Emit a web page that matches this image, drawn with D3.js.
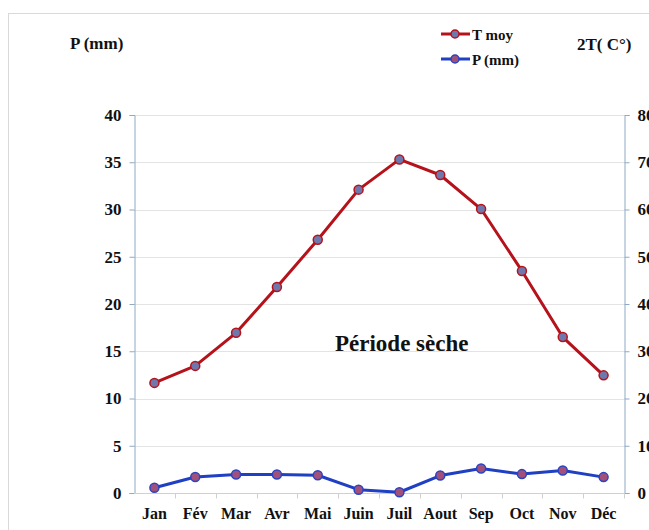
<!DOCTYPE html>
<html>
<head>
<meta charset="utf-8">
<script src="https://cdn.jsdelivr.net/npm/d3@7"></script>
<style>
  svg text { font-family: "Liberation Serif", Tinos, "Times New Roman" !important; font-weight: bold; }
</style>
</head>
<body style="margin:0;background:#fff;overflow:hidden">
<svg id="chart" width="649" height="530" style="display:block" font-family="Liberation Serif"></svg>
<script>
// Monthly climate data (ombrothermic diagram, P = 2T)
const months = ["Jan", "Fév", "Mar", "Avr", "Mai", "Juin", "Juil", "Aout", "Sep", "Oct", "Nov", "Déc"];
const tMoy = [11.65, 13.45, 16.95, 21.8, 26.8, 32.1, 35.3, 33.65, 30.05, 23.5, 16.5, 12.45];   // °C
const precip = [0.55, 1.7, 1.95, 1.95, 1.88, 0.35, 0.08, 1.85, 2.6, 2.0, 2.38, 1.68];           // mm
const leftTicks = [0, 5, 10, 15, 20, 25, 30, 35, 40];
const rightTicks = [0, 10, 20, 30, 40, 50, 60, 70, 80];

const FONT = "Liberation Serif";
const svg = d3.select("#chart");
const m = { left: 134, right: 624, top: 115, bottom: 493 };

function styleText(sel, size) {
  return sel.attr("font-family", FONT).attr("font-weight", "bold")
    .style("font-family", '"' + FONT + '"').style("font-weight", "bold")
    .style("font-size", size + "px").style("fill", "#111");
}

// chart frame
svg.append("rect")
  .attr("x", 8.5).attr("y", 13.5).attr("width", 700).attr("height", 600)
  .attr("fill", "none").attr("stroke", "#d9d9d9").attr("stroke-width", 1);

const x = d3.scaleBand().domain(months).range([m.left, m.right]);
const yP = d3.scaleLinear().domain([0, 40]).range([m.bottom, m.top]);
const yT = d3.scaleLinear().domain([0, 80]).range([m.bottom, m.top]);

// horizontal gridlines
svg.append("g").selectAll("line").data(leftTicks.filter(d => d > 0)).join("line")
  .attr("x1", m.left).attr("x2", m.right)
  .attr("y1", d => Math.round(yP(d)) + 0.5).attr("y2", d => Math.round(yP(d)) + 0.5)
  .attr("stroke", "#e3e3e3").attr("stroke-width", 1);

// left axis
const axisColor = "#8eaac4";
const gl = svg.append("g").attr("transform", `translate(${m.left + 0.5},0)`)
  .call(d3.axisLeft(yP).tickValues(leftTicks).tickSize(5).tickPadding(8))
  .attr("font-family", FONT).attr("font-size", null);
gl.select(".domain").attr("stroke", axisColor);
gl.selectAll(".tick line").attr("stroke", axisColor);
styleText(gl.selectAll(".tick text"), 17);

// right axis
const gr = svg.append("g").attr("transform", `translate(${m.right + 0.5},0)`)
  .call(d3.axisRight(yT).tickValues(rightTicks).tickSize(5).tickPadding(8))
  .attr("font-family", FONT).attr("font-size", null);
gr.select(".domain").attr("stroke", axisColor);
gr.selectAll(".tick line").attr("stroke", axisColor);
styleText(gr.selectAll(".tick text"), 17);

// category axis
const gx = svg.append("g").attr("transform", `translate(0,${m.bottom + 0.5})`);
gx.append("line").attr("x1", m.left).attr("x2", m.right).attr("stroke", "#d0d0d0");
gx.selectAll("line.tk").data(months).join("line").attr("class", "tk")
  .attr("x1", d => Math.round(x(d) + x.bandwidth()) + 0.5)
  .attr("x2", d => Math.round(x(d) + x.bandwidth()) + 0.5)
  .attr("y1", 0).attr("y2", 5).attr("stroke", "#d0d0d0");
styleText(gx.selectAll("text").data(months).join("text")
  .attr("x", d => x(d) + x.bandwidth() / 2).attr("y", 25)
  .attr("text-anchor", "middle").text(d => d), 16);

const cx = d => x(d) + x.bandwidth() / 2;

// temperature series (on the 2T axis)
const tLine = d3.line().x((d, i) => cx(months[i])).y(d => yT(2 * d));
svg.append("path").datum(tMoy).attr("d", tLine)
  .attr("fill", "none").attr("stroke", "#b5121b").attr("stroke-width", 3).attr("stroke-linejoin", "round");
svg.append("g").selectAll("circle").data(tMoy).join("circle")
  .attr("cx", (d, i) => cx(months[i])).attr("cy", d => yT(2 * d)).attr("r", 4.5)
  .attr("fill", "#6f78ad").attr("stroke", "#b5121b").attr("stroke-width", 1.5);

// precipitation series
const pLine = d3.line().x((d, i) => cx(months[i])).y(d => yP(d));
svg.append("path").datum(precip).attr("d", pLine)
  .attr("fill", "none").attr("stroke", "#1f3fc4").attr("stroke-width", 3).attr("stroke-linejoin", "round");
svg.append("g").selectAll("circle").data(precip).join("circle")
  .attr("cx", (d, i) => cx(months[i])).attr("cy", d => yP(d)).attr("r", 4.5)
  .attr("fill", "#a2507a").attr("stroke", "#2a44c0").attr("stroke-width", 1.5);

// axis titles
styleText(svg.append("text").attr("x", 70).attr("y", 49).text("P (mm)"), 17);
styleText(svg.append("text").attr("x", 577).attr("y", 50).text("2T( C°)"), 17);

// legend
const legend = [
  { label: "T moy", line: "#b5121b", fill: "#6f78ad", stroke: "#b5121b", y: 34 },
  { label: "P (mm)", line: "#1f3fc4", fill: "#a2507a", stroke: "#2a44c0", y: 59 }
];
const lg = svg.append("g");
legend.forEach(l => {
  lg.append("line").attr("x1", 441).attr("x2", 470).attr("y1", l.y).attr("y2", l.y)
    .attr("stroke", l.line).attr("stroke-width", 3);
  lg.append("circle").attr("cx", 455).attr("cy", l.y).attr("r", 4)
    .attr("fill", l.fill).attr("stroke", l.stroke).attr("stroke-width", 1.5);
  styleText(lg.append("text").attr("x", 472).attr("y", l.y + 6).text(l.label), 15);
});

// annotation
styleText(svg.append("text").attr("x", 335).attr("y", 351).text("Période sèche"), 23);
</script>
</body>
</html>
